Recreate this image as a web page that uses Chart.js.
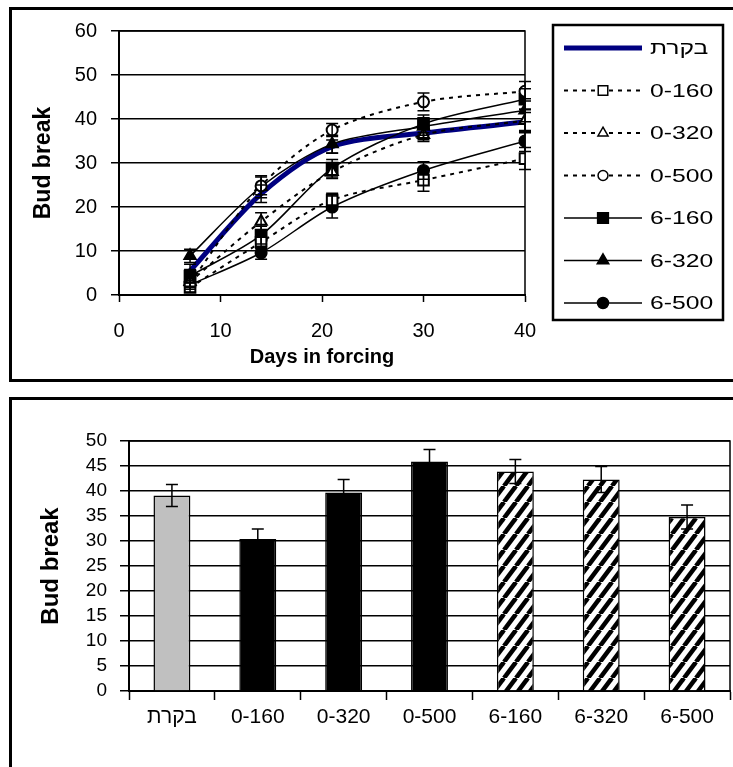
<!DOCTYPE html>
<html lang="en">
<head>
  <meta charset="UTF-8">
  <title>Bud break</title>
  <script src="https://cdn.jsdelivr.net/npm/chart.js@4.4.1/dist/chart.umd.min.js"></script>
  <style>
    html, body { margin: 0; padding: 0; background: #fff; }
    body { width: 733px; height: 767px; overflow: hidden; position: relative; }
    .panel { position: absolute; border: 3px solid #000; box-sizing: border-box; }
    #topPanel { left: 9px; top: 7px; width: 800px; height: 375px; }
    #bottomPanel { left: 9px; top: 397px; width: 800px; height: 420px; }
    canvas { position: absolute; left: 0; }
    #lineChart { top: 0; }
    #barChart { top: 390px; }
  </style>
</head>
<body>
  <div class="panel" id="topPanel"></div>
  <div class="panel" id="bottomPanel"></div>
  <canvas id="lineChart" width="733" height="390"></canvas>
  <canvas id="barChart" width="733" height="377"></canvas>

  <script>
    // data
    const days = [7, 14, 21, 30, 40];
    const seriesNames = ['בקרת', '0-160', '0-320', '0-500', '6-160', '6-320', '6-500'];

    const control = [5.5, 23, 33.7, 36.8, 39.3];
    const t0_160 = [1.7, 12, 21.6, 26.1, 31];
    const t0_320 = [3, 16.7, 28, 36.4, 39.6];
    const t0_500 = [2.7, 24.8, 37.5, 43.9, 46.3];
    const t6_160 = [4.3, 13.6, 28.8, 38.9, 44.5];
    const t6_320 = [8.9, 24.6, 34.3, 38.3, 42];
    const t6_500 = [2.3, 9.6, 20, 28.3, 35];

    const errControl = [1.5, 2, 1.5, 1.5, 2.2];
    const err0_160 = [1, 1.5, 1.5, 2.5, 2.5];
    const err0_320 = [1, 2, 1.5, 1.5, 2.7];
    const err0_500 = [1, 2, 1.5, 2, 2.2];
    const err6_160 = [1.5, 2, 2, 2, 2.4];
    const err6_320 = [1.5, 2.5, 2, 2, 2.6];
    const err6_500 = [1, 1.5, 2.5, 2, 2.4];

    const xTicks = [0, 10, 20, 30, 40];

    // bottom chart: bud break at day 40
    const barValues = [39.1, 30.4, 39.7, 45.9, 43.9, 42.3, 34.8];
    const barErrors = [2.2, 2, 2.6, 2.4, 2.4, 2.6, 2.4];

    Chart.defaults.font.family = "'Liberation Sans', Arial, sans-serif";
    Chart.defaults.color = '#000';

    const toPoints = vals => days.map((d, i) => ({ x: d, y: vals[i] }));

    // error bars (caps) drawn over the series
    const errorBars = {
      id: 'errorBars',
      afterDatasetsDraw(chart, args, opts) {
        const ctx = chart.ctx;
        const yScale = chart.scales.y;
        ctx.save();
        ctx.strokeStyle = '#000';
        ctx.lineWidth = opts.width || 1.5;
        chart.data.datasets.forEach((ds, i) => {
          if (!ds.errors) return;
          const meta = chart.getDatasetMeta(i);
          meta.data.forEach((el, j) => {
            const raw = ds.data[j];
            const v = typeof raw === 'object' ? raw.y : raw;
            const e = ds.errors[j];
            const yTop = yScale.getPixelForValue(v + e);
            const yBot = yScale.getPixelForValue(v - e);
            const half = opts.cap / 2;
            ctx.beginPath();
            ctx.moveTo(el.x, yTop); ctx.lineTo(el.x, yBot);
            ctx.moveTo(el.x - half, yTop); ctx.lineTo(el.x + half, yTop);
            ctx.moveTo(el.x - half, yBot); ctx.lineTo(el.x + half, yBot);
            ctx.stroke();
          });
        });
        ctx.restore();
      }
    };

    // box round the plot area (top and right edges)
    const frame = {
      id: 'frame',
      beforeDatasetsDraw(chart) {
        const a = chart.chartArea;
        const ctx = chart.ctx;
        ctx.save();
        ctx.strokeStyle = '#000';
        ctx.lineWidth = 1.5;
        ctx.beginPath();
        ctx.moveTo(a.left, a.top); ctx.lineTo(a.right, a.top); ctx.lineTo(a.right, a.bottom);
        ctx.stroke();
        ctx.restore();
      }
    };

    // legend drawn by hand: line sample with the marker in its middle
    const sideLegend = {
      id: 'sideLegend',
      afterDraw(chart, args, o) {
        const ctx = chart.ctx;
        ctx.save();
        ctx.strokeStyle = '#000';
        ctx.lineWidth = 2.5;
        ctx.strokeRect(o.left, o.top, o.width, o.height);
        chart.data.datasets.forEach((ds, i) => {
          const y = o.firstRow + i * o.rowGap;
          ctx.save();
          ctx.strokeStyle = ds.borderColor;
          ctx.lineWidth = ds.borderWidth;
          ctx.setLineDash(ds.borderDash || []);
          ctx.beginPath();
          ctx.moveTo(o.lineFrom, y); ctx.lineTo(o.lineTo, y);
          ctx.stroke();
          ctx.restore();
          if (ds.pointRadius > 0) {
            const open = ds.pointBackgroundColor === '#fff';
            ctx.save();
            ctx.fillStyle = ds.pointBackgroundColor;
            ctx.strokeStyle = '#000';
            ctx.lineWidth = 1.5;
            Chart.helpers.drawPoint(ctx, {
              pointStyle: ds.pointStyle,
              radius: ds.pointRadius * (open ? 0.9 : 0.95),
              rotation: 0,
              borderWidth: 1.5
            }, (o.lineFrom + o.lineTo) / 2, y);
            ctx.restore();
          }
          ctx.save();
          ctx.fillStyle = '#000';
          ctx.font = o.fontSize + "px 'Liberation Sans', Arial, sans-serif";
          ctx.textBaseline = 'middle';
          ctx.translate(o.textX, y + 1);
          ctx.scale(o.stretch, 1);
          ctx.fillText(seriesNames[i], 0, 0);
          ctx.restore();
        });
        ctx.restore();
      }
    };

    const lineCtx = document.getElementById('lineChart').getContext('2d');
    new Chart(lineCtx, {
      type: 'line',
      data: {
        datasets: [
          { label: seriesNames[0], data: toPoints(control), errors: errControl, borderColor: '#000080', borderWidth: 5, pointRadius: 0, order: 1 },
          { label: seriesNames[1], data: toPoints(t0_160), errors: err0_160, borderColor: '#000', borderWidth: 2, borderDash: [4, 5], pointStyle: 'rect', pointRadius: 7.5, pointBackgroundColor: '#fff' },
          { label: seriesNames[2], data: toPoints(t0_320), errors: err0_320, borderColor: '#000', borderWidth: 2, borderDash: [4, 5], pointStyle: 'triangle', pointRadius: 6.5, pointBackgroundColor: '#fff' },
          { label: seriesNames[3], data: toPoints(t0_500), errors: err0_500, borderColor: '#000', borderWidth: 2, borderDash: [4, 5], pointStyle: 'circle', pointRadius: 5.5, pointBackgroundColor: '#fff' },
          { label: seriesNames[4], data: toPoints(t6_160), errors: err6_160, borderColor: '#000', borderWidth: 1.5, pointStyle: 'rect', pointRadius: 8, pointBackgroundColor: '#000' },
          { label: seriesNames[5], data: toPoints(t6_320), errors: err6_320, borderColor: '#000', borderWidth: 1.5, pointStyle: 'triangle', pointRadius: 7, pointBackgroundColor: '#000' },
          { label: seriesNames[6], data: toPoints(t6_500), errors: err6_500, borderColor: '#000', borderWidth: 1.5, pointStyle: 'circle', pointRadius: 5.8, pointBackgroundColor: '#000' }
        ]
      },
      options: {
        responsive: false,
        animation: false,
        elements: {
          line: { tension: 0.3, fill: false },
          point: { borderColor: '#000', borderWidth: 1.5, pointStyle: 'circle' }
        },
        layout: { padding: { left: 12, top: 31, right: 208, bottom: 10 } },
        plugins: {
          legend: { display: false },
          tooltip: { enabled: false },
          errorBars: { cap: 12, width: 1.5 },
          sideLegend: {
            left: 553, top: 25, width: 170, height: 295,
            firstRow: 48, rowGap: 42.5,
            lineFrom: 564, lineTo: 642, textX: 650,
            fontSize: 19, stretch: 1.3
          }
        },
        scales: {
          x: {
            type: 'linear', min: 0, max: 40,
            afterBuildTicks: s => { s.ticks = xTicks.map(v => ({ value: v })); },
            afterFit: s => { s.height = 85; },
            grid: { drawOnChartArea: false, tickLength: 7, tickColor: '#000', tickWidth: 1.5 },
            border: { color: '#000', width: 2 },
            ticks: { font: { size: 20 }, padding: 17, maxRotation: 0 },
            title: { display: true, text: 'Days in forcing', font: { size: 20, weight: 'bold' }, padding: { top: 0, bottom: 11 } }
          },
          y: {
            min: 0, max: 60,
            afterFit: s => { s.width = 107; },
            grid: { color: '#000', lineWidth: 1.5, tickLength: 8 },
            border: { color: '#000', width: 2 },
            ticks: { stepSize: 10, font: { size: 20 }, padding: 14, autoSkip: false },
            title: { display: true, text: 'Bud break', font: { size: 23, weight: 'bold' }, padding: { top: 18, bottom: 0 } }
          }
        }
      },
      plugins: [frame, errorBars, sideLegend]
    });

    // hatch for the 6-xxx bars
    const barCtx = document.getElementById('barChart').getContext('2d');
    const tile = document.createElement('canvas');
    tile.width = 12; tile.height = 16;
    const t = tile.getContext('2d');
    t.fillStyle = '#fff';
    t.fillRect(0, 0, 12, 16);
    t.strokeStyle = '#000';
    t.lineWidth = 4.5;
    for (let k = -1; k <= 1; k++) {
      t.beginPath();
      t.moveTo(k * 12, 16); t.lineTo(k * 12 + 12, 0);
      t.stroke();
    }
    const hatch = barCtx.createPattern(tile, 'repeat');

    new Chart(barCtx, {
      type: 'bar',
      data: {
        labels: seriesNames,
        datasets: [{
          data: barValues,
          errors: barErrors,
          backgroundColor: ['#c0c0c0', '#000', '#000', '#000', hatch, hatch, hatch],
          borderColor: '#000',
          borderWidth: 1.5,
          borderSkipped: 'bottom',
          barPercentage: 0.43,
          categoryPercentage: 1
        }]
      },
      options: {
        responsive: false,
        animation: false,
        layout: { padding: { left: 12, top: 51, right: 3, bottom: 5 } },
        plugins: {
          legend: { display: false },
          tooltip: { enabled: false },
          errorBars: { cap: 12, width: 1.5 }
        },
        scales: {
          x: {
            afterFit: s => { s.height = 71; },
            grid: { drawOnChartArea: false, tickLength: 9, tickColor: '#000', tickWidth: 1.5 },
            border: { color: '#000', width: 2 },
            ticks: { font: { size: 21 }, padding: 5, maxRotation: 0 }
          },
          y: {
            min: 0, max: 50,
            afterFit: s => { s.width = 117; },
            grid: { color: '#000', lineWidth: 1.5, tickLength: 9 },
            border: { color: '#000', width: 2 },
            ticks: { stepSize: 5, font: { size: 19 }, padding: 13, autoSkip: false },
            title: { display: true, text: 'Bud break', font: { size: 24, weight: 'bold' }, padding: { top: 25, bottom: 0 } }
          }
        }
      },
      plugins: [frame, errorBars]
    });
  </script>
</body>
</html>
